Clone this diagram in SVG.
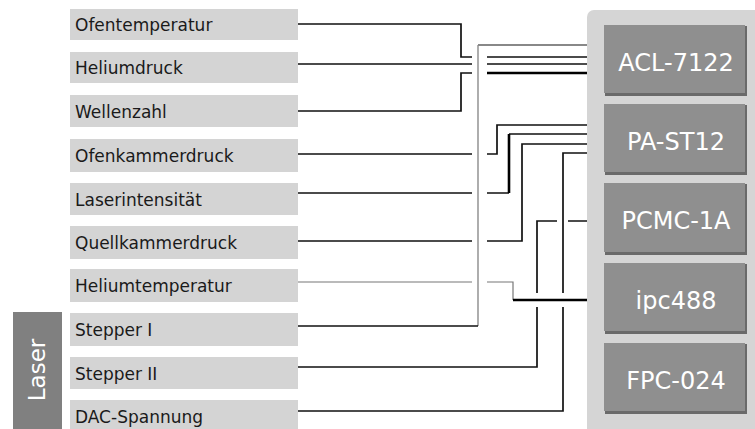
<svg xmlns="http://www.w3.org/2000/svg" width="755" height="429" viewBox="0 0 755 429">
<style>
.lb{fill:#d4d4d4}
.lt{font-family:"DejaVu Sans",Verdana,sans-serif;font-size:17px;fill:#1a1a1a}
.db{fill:#8f8f8f}
.ds{fill:#6a6a6a}
.dt{font-family:"DejaVu Sans",Verdana,sans-serif;font-size:24px;fill:#ffffff;text-anchor:middle}
.c{fill:none;stroke:#111;stroke-width:1.7}
.k{fill:none;stroke:#000;stroke-width:2.6}
.g{fill:none;stroke:#777;stroke-width:1.2}
.gm{fill:none;stroke:#888;stroke-width:2}
</style>
<rect x="0" y="0" width="755" height="429" fill="#ffffff"/>
<g id="panel"><rect x="587" y="10" width="180" height="430" rx="7" fill="#d5d5d5"/></g>
<g id="laser">
<rect x="13" y="312" width="49" height="120" fill="#808080"/>
<text transform="translate(45,370) rotate(-90)" font-family="DejaVu Sans, Verdana, sans-serif" font-size="23" fill="#ffffff" text-anchor="middle">Laser</text>
</g>
<g id="n-ofentemperatur"><rect class="lb" x="70" y="9" width="228" height="31"/><text class="lt" x="75" y="31">Ofentemperatur</text></g>
<g id="n-heliumdruck"><rect class="lb" x="70" y="52" width="228" height="31"/><text class="lt" x="75" y="74">Heliumdruck</text></g>
<g id="n-wellenzahl"><rect class="lb" x="70" y="95" width="228" height="32"/><text class="lt" x="75" y="118">Wellenzahl</text></g>
<g id="n-ofenkammerdruck"><rect class="lb" x="70" y="139" width="228" height="33"/><text class="lt" x="75" y="162">Ofenkammerdruck</text></g>
<g id="n-laserintensitaet"><rect class="lb" x="70" y="183" width="228" height="32"/><text class="lt" x="75" y="206">Laserintensität</text></g>
<g id="n-quellkammerdruck"><rect class="lb" x="70" y="226" width="228" height="33"/><text class="lt" x="75" y="249">Quellkammerdruck</text></g>
<g id="n-heliumtemperatur"><rect class="lb" x="70" y="269" width="228" height="33"/><text class="lt" x="75" y="292">Heliumtemperatur</text></g>
<g id="n-stepper1"><rect class="lb" x="70" y="313" width="228" height="33"/><text class="lt" x="75" y="336">Stepper I</text></g>
<g id="n-stepper2"><rect class="lb" x="70" y="357" width="228" height="32"/><text class="lt" x="75" y="380">Stepper II</text></g>
<g id="n-dac"><rect class="lb" x="70" y="400" width="228" height="32"/><text class="lt" x="75" y="423">DAC-Spannung</text></g>
<g id="d-acl"><rect class="ds" x="605" y="26" width="142" height="70"/><rect class="db" x="604" y="25" width="141" height="68"/><text class="dt" x="676" y="71">ACL-7122</text></g>
<g id="d-past12"><rect class="ds" x="605" y="105" width="142" height="70"/><rect class="db" x="604" y="104" width="141" height="68"/><text class="dt" x="676" y="150">PA-ST12</text></g>
<g id="d-pcmc"><rect class="ds" x="605" y="184" width="142" height="71"/><rect class="db" x="604" y="183" width="141" height="69"/><text class="dt" x="676" y="229">PCMC-1A</text></g>
<g id="d-ipc"><rect class="ds" x="605" y="264" width="142" height="70"/><rect class="db" x="604" y="263" width="141" height="68"/><text class="dt" x="676" y="309">ipc488</text></g>
<g id="d-fpc"><rect class="ds" x="605" y="344" width="142" height="70"/><rect class="db" x="604" y="343" width="141" height="68"/><text class="dt" x="676" y="389">FPC-024</text></g>
<g id="connectors">
<path class="c" d="M298,24 H461 V57 H472 M487,57 H587"/>
<path class="c" d="M298,64 H472 M487,64 H587"/>
<path class="c" d="M298,111 H461 V73 H472"/>
<path class="k" d="M487,73 H587"/>
<path class="g" d="M478,326 V45"/>
<path class="c" d="M298,326 H478"/>
<path class="gm" d="M478,45 H587"/>
<path class="c" d="M298,154 H472 M487,154 H497 V125 H587"/>
<path class="c" d="M298,193 H472 M487,193 H509 M509,134 H587"/>
<path class="k" d="M509,193 V134"/>
<path class="c" d="M298,241 H472 M487,241 H522 V144 H587"/>
<path class="c" d="M298,411 H563 V307 M563,293 V153 H587"/>
<path class="c" d="M298,367 H537 V307 M537,293 V221 H557 M568,221 H587"/>
<path class="g" d="M298,282 H472 M487,282 H513 V300"/>
<path class="k" d="M513,300 H587"/>
</g>
</svg>
